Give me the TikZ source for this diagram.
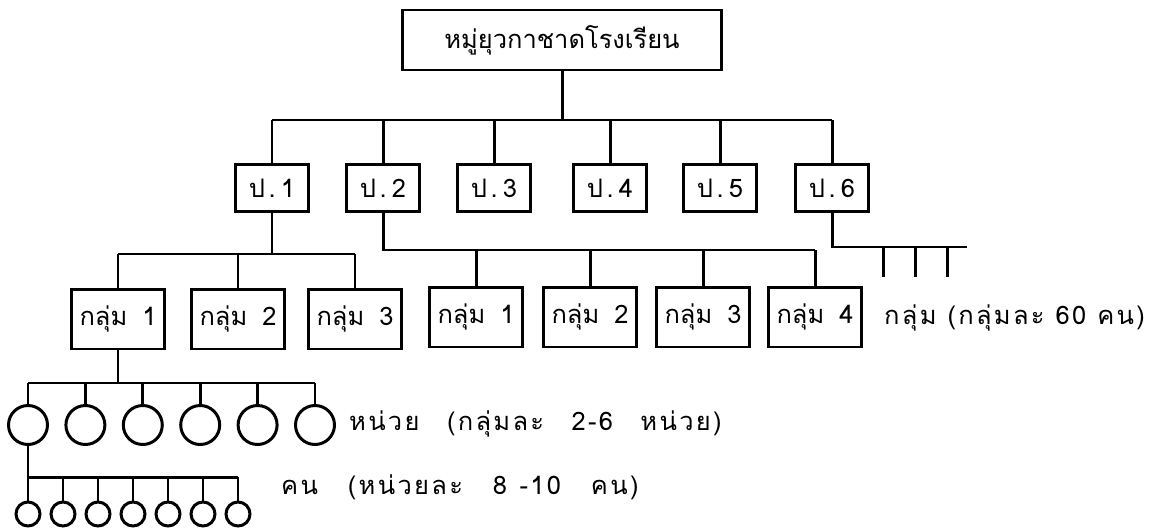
\documentclass[tikz,border=0pt]{standalone}
\usepackage{fontspec}
\newfontfamily\thaifont[Script=Thai]{Loma}
\newfontfamily\thaiwide[Script=Thai,LetterSpace=9]{Loma}
\begin{document}
\begin{tikzpicture}[x=0.02cm,y=-0.02cm,
		every node/.style={font=\thaifont\fontsize{14.5}{16}\selectfont},
		wide/.style={font=\thaiwide\fontsize{14.5}{16}\selectfont},
		box/.style={draw,line width=1.7pt,minimum width=1.46cm,minimum height=0.94cm,inner sep=2pt},
		grp/.style={draw,line width=1.7pt,minimum width=1.85cm,minimum height=1.2cm,inner sep=2pt},
		unit/.style={draw,circle,line width=1.7pt,minimum size=0.78cm,inner sep=0pt},
		person/.style={draw,circle,line width=1.7pt,minimum size=0.48cm,inner sep=0pt},
		link/.style={line width=1.7pt}]
			\useasboundingbox (0,0) rectangle (1165,527);
			% school troop and classes
			\node[draw,line width=1.7pt,minimum width=6.38cm,minimum height=1.2cm] (top) at (562,40) {หมู่ยุวกาชาดโรงเรียน};
			\foreach \x/\n in {272/1,383/2,494/3,610/4,720/5,832/6}
				\node[box] (p\n) at (\x,188) {ป\kern2pt.\kern3pt\n};
			\coordinate (bus) at (562,120);
			\draw[link] (top.south) -- (bus);
			\draw[link] (p1.north |- bus) -- (p6.north |- bus);
			\foreach \n in {1,...,6}
				\draw[link] (p\n.north |- bus) -- (p\n.north);
			% groups
			\foreach \x/\n in {118/1,238/2,355/3}
				\node[grp] (a\n) at (\x,319) {กลุ่ม\hspace{0.3cm}\n};
			\foreach \x/\n in {476/1,590/2,703/3,815/4}
				\node[grp] (b\n) at (\x,317) {กลุ่ม\hspace{0.3cm}\n};
			\coordinate (busa) at (276,254);
			\draw[link] (p1.south) -- (p1.south |- busa);
			\draw[link] (a1.north |- busa) -- (a3.north |- busa);
			\foreach \n in {1,2,3}
				\draw[link] (a\n.north |- busa) -- (a\n.north);
			\coordinate (busb) at (390,250);
			\draw[link] (p2.south) -- (p2.south |- busb) -- (b4.north |- busb);
			\foreach \n in {1,...,4}
				\draw[link] (b\n.north |- busb) -- (b\n.north);
			\coordinate (busc) at (833,247);
			\coordinate (cend) at (967,247);
			\draw[link] (p6.south) -- (p6.south |- busc) -- (cend);
			\foreach \x [count=\i] in {883,915,947} {
				\coordinate (t\i) at (\x,277);
				\draw[link] (t\i |- busc) -- (t\i);
			}
			\node[wide,anchor=west] (glabel) at (878,318) {กลุ่ม\hspace{0.22cm}(กลุ่มละ\hspace{0.22cm}60\hspace{0.22cm}คน)};
			% units
			\foreach \i in {1,...,6}
				\node[unit] (u\i) at ({28+57.4*(\i-1)},425) {};
			\coordinate (busu) at (127,383);
			\draw[link] (a1.south) -- (a1.south |- busu);
			\draw[link] (u1.north |- busu) -- (u6.north |- busu);
			\foreach \i in {1,...,6}
				\draw[link] (u\i.north |- busu) -- (u\i.north);
			\node[wide,anchor=west] (ulabel) at (343,424) {หน่วย\hspace{0.55cm}(กลุ่มละ\hspace{0.55cm}2-6\hspace{0.55cm}หน่วย)};
			% members
			\foreach \i in {1,...,7}
				\node[person] (m\i) at ({28+35*(\i-1)},514) {};
			\coordinate (busm) at (32,477);
			\draw[link] (u1.south) -- (u1.south |- busm);
			\draw[link] (m1.north |- busm) -- (m7.north |- busm);
			\foreach \i in {1,...,7}
				\draw[link] (m\i.north |- busm) -- (m\i.north);
			\node[wide,anchor=west] (mlabel) at (275,487) {คน\hspace{0.6cm}(หน่วยละ\hspace{0.6cm}8\hspace{0.25cm}-10\hspace{0.6cm}คน)};
		\end{tikzpicture}
\end{document}
